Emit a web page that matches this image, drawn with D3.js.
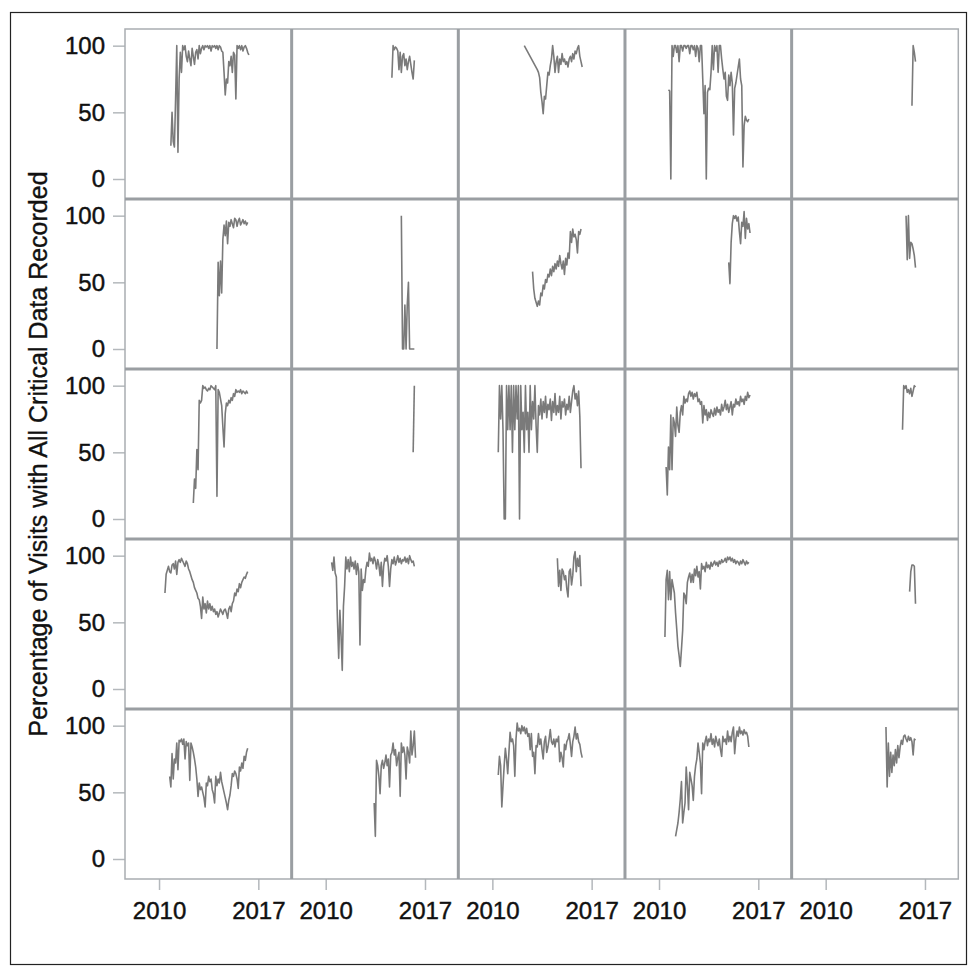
<!DOCTYPE html>
<html>
<head>
<meta charset="utf-8">
<script src="https://cdn.jsdelivr.net/npm/d3@7"></script>
<style>
  body { margin: 0; background: #fff; }
  svg { display: block; font-family: Arial, "Liberation Sans", sans-serif; }
</style>
</head>
<body>
<div id="chart"></div>
<script>
// monthly percentages per site; a 'YYYY-MM' string sets the month of the next value
const site01 = ['2010-11', 25, 50, 28, 24, 60, 100, 20, 75, 95, 80, 100, 97, 100, 92, 88, 96, 90, 85, 98, 92, 86, 95, 97, 90, 100, 94, 98, 100, 97, 100, 99, 100, 98, 100, 96, 100, 99, 100, 98, 100, 97, 100, 99, 96, 95, 80, 63, 75, 72, 88, 85, 92, 80, 95, 93, 60, 100, 98, 100, 97, 100, 96, 99, 100, 98, 95, 93];
const site02 = ['2014-09', 76, 100, 97, 99, 98, 96, 82, 95, 80, 92, 94, 85, 90, 82, 88, 92, 86, 80, 75, 89];
const site03 = ['2012-04', 100, '2013-03', 82, 80, 76, 65, 58, 49, 62, 60, 70, 80, 78, 85, 90, 100, 92, 80, 88, 92, 80, 90, 86, 94, 88, 90, 86, 88, 84, 90, 92, 88, 94, 90, 96, 94, 98, 100, 92, 88, 84];
const site04 = ['2010-09', 67, 66, 0, 100, 92, 100, 100, 95, 100, 88, 100, 100, 96, 100, 100, 98, 100, 100, 94, 100, 100, 97, 100, 92, 100, 98, 88, 100, 100, 75, 49, 70, 0, 65, 68, 67, 80, 100, 82, 100, 96, 100, 80, 100, 100, 90, 82, 75, 80, 62, 59, 78, 70, 80, 72, 33, 68, 72, 78, 84, 90, 75, 70, 9, 40, 47, 44, 43, 45];
const site05 = ['2016-02', 55, 100, 95, 88];
const site06 = ['2014-02', 0, 65, 40, 66, 42, 82, 93, 85, 96, 79, 95, 92, 97, 94, 91, 98, 97, 92, 96, 98, 93, 95, 97, 94, 96, 93, 95];
const site07 = ['2015-05', 100, 0, 0, 33, 0, 33, 50, 0, 0, 0, 0, 0];
const site08 = ['2012-11', 58, 45, 38, 35, 32, 36, 33, 42, 40, 48, 45, 52, 50, 56, 54, 60, 55, 62, 58, 64, 60, 66, 62, 70, 64, 60, 66, 56, 68, 63, 72, 68, 88, 80, 90, 84, 86, 82, 72, 88, 86, 90];
const site09 = ['2014-12', 65, 49, 80, 94, 100, 98, 100, 96, 99, 88, 79, 95, 92, 103, 83, 98, 90, 94, 87];
const site10 = ['2015-09', 100, 67, 100, 68, 80, 79, 75, 70, 61];
const site11 = ['2012-06', 12, 30, 23, 52, 37, 89, 87, 89, 100, 98, 99, 97, 96, 98, 97, 100, 99, 98, 97, 100, 17, 97, 95, 90, 85, 69, 54, 79, 87, 85, 89, 87, 91, 89, 94, 92, 97, 95, 96, 95, 97, 94, 96, 95, 94, 96, 94];
const site12 = ['2016-03', 50, 100];
const site13 = ['2010-06', 50, 100, 75, 100, 67, 0, 0, 100, 67, 100, 67, 100, 50, 100, 67, 100, 75, 100, 0, 100, 67, 80, 50, 100, 67, 80, 50, 100, 67, 88, 75, 100, 70, 50, 85, 78, 90, 75, 88, 80, 92, 76, 86, 82, 90, 74, 88, 80, 94, 78, 85, 80, 92, 75, 88, 84, 90, 78, 86, 82, 92, 80, 88, 96, 100, 90, 94, 85, 96, 77, 38];
const site14 = ['2010-07', 39, 18, 54, 37, 78, 37, 76, 72, 62, 84, 70, 65, 80, 85, 78, 92, 87, 90, 88, 94, 96, 92, 95, 90, 94, 92, 95, 88, 90, 86, 88, 72, 85, 78, 82, 74, 80, 76, 82, 79, 77, 83, 78, 84, 80, 82, 78, 86, 81, 84, 89, 82, 86, 80, 84, 88, 78, 86, 84, 90, 86, 88, 85, 92, 88, 90, 86, 92, 89, 95, 91, 93];
const site15 = ['2015-06', 67, 100, 98, 100, 95, 97, 94, 98, 92, 96, 100, 99];
const site16 = ['2010-06', 72, 86, 89, 92, 88, 87, 93, 94, 90, 96, 86, 95, 97, 95, 98, 96, 94, 92, 96, 94, 90, 88, 85, 82, 80, 76, 74, 72, 68, 67, 62, 53, 69, 60, 64, 57, 66, 60, 64, 59, 62, 58, 60, 56, 58, 54, 57, 60, 58, 56, 59, 60, 57, 53, 60, 62, 58, 64, 66, 72, 70, 75, 73, 79, 76, 80, 82, 84, 83, 86, 88];
const site17 = ['2010-06', 95, 89, 99, 87, 84, 50, 23, 59, 40, 14, 62, 77, 99, 90, 97, 88, 99, 92, 95, 90, 96, 86, 94, 88, 33, 90, 74, 82, 80, 90, 95, 92, 102, 96, 98, 94, 99, 96, 90, 97, 93, 85, 95, 77, 92, 98, 96, 100, 92, 77, 90, 97, 94, 99, 93, 96, 100, 95, 98, 94, 97, 96, 99, 95, 98, 94, 100, 97, 95, 96, 92];
const site18 = ['2014-08', 98, 77, 89, 74, 90, 88, 82, 85, 75, 69, 88, 90, 78, 85, 99, 103, 88, 98, 92, 100, 77];
const site19 = ['2010-06', 39, 82, 89, 67, 88, 67, 82, 77, 72, 57, 45, 32, 25, 17, 30, 44, 72, 70, 64, 80, 84, 87, 80, 86, 80, 90, 85, 92, 84, 88, 75, 94, 90, 92, 88, 95, 91, 93, 90, 95, 92, 94, 96, 93, 95, 92, 96, 94, 97, 95, 96, 98, 95, 99, 97, 99, 96, 98, 95, 97, 94, 96, 95, 93, 96, 94, 97, 95, 93, 96, 94, 95];
const site20 = ['2015-12', 73, 88, 93, 93, 92, 64];
const site21 = ['2010-10', 62, 54, 79, 60, 75, 72, 87, 67, 89, 88, 90, 86, 90, 75, 88, 85, 87, 59, 87, 84, 80, 75, 69, 60, 47, 57, 52, 54, 50, 46, 39, 57, 55, 62, 58, 60, 52, 49, 42, 62, 55, 60, 57, 65, 58, 54, 50, 46, 42, 37, 44, 48, 55, 64, 62, 66, 64, 60, 53, 69, 66, 72, 68, 77, 74, 80, 83];
const site22 = ['2013-06', 42, 17, 74, 70, 62, 49, 70, 74, 68, 72, 78, 70, 75, 54, 78, 80, 87, 78, 82, 70, 76, 80, 47, 87, 80, 84, 78, 60, 84, 80, 72, 96, 78, 85, 96, 76];
const site23 = ['2010-06', 63, 77, 70, 39, 55, 70, 83, 75, 64, 80, 95, 88, 90, 85, 62, 90, 102, 96, 98, 94, 100, 96, 99, 94, 98, 92, 94, 82, 94, 77, 80, 64, 85, 84, 94, 86, 90, 82, 75, 88, 92, 80, 84, 90, 97, 88, 86, 90, 84, 90, 88, 92, 73, 80, 76, 69, 86, 82, 88, 90, 94, 86, 77, 88, 92, 99, 90, 94, 88, 86, 80, 76];
const site24 = ['2011-03', 17, 22, 27, 35, 45, 58, 27, 35, 42, 69, 55, 37, 65, 60, 55, 44, 62, 70, 75, 87, 80, 72, 49, 87, 82, 88, 92, 85, 90, 88, 94, 86, 90, 84, 92, 88, 85, 90, 82, 77, 92, 88, 90, 86, 96, 88, 92, 88, 95, 99, 79, 90, 96, 92, 99, 94, 96, 93, 97, 94, 95, 92, 84];
const site25 = ['2014-04', 99, 54, 87, 62, 80, 65, 78, 70, 82, 72, 85, 76, 84, 89, 86, 92, 93, 90, 88, 92, 89, 91, 88, 78, 90, 89];

const sites = [site01, site02, site03, site04, site05, site06, site07, site08, site09, site10,
  site11, site12, site13, site14, site15, site16, site17, site18, site19, site20,
  site21, site22, site23, site24, site25];

const yearTicks = [2010, 2017];
const pctTicks = [0, 50, 100];
const yTitle = 'Percentage of Visits with All Critical Data Recorded';

//dimensions
const width = 968, height = 976;
const margin = { top: 29, left: 125 };
const nCols = 5, nRows = 5;
const panelW = 833.3 / nCols;
const panelH = 170;

// turn a site array into {t, v} points (t in decimal years)
function toPoints(arr) {
  const pts = [];
  let t = 0;
  arr.forEach(d => {
    if (typeof d === 'string') {
      const [yy, mm] = d.split('-').map(Number);
      t = yy + (mm - 1) / 12;
    } else {
      pts.push({ t: t, v: d });
      t += 1 / 12;
    }
  });
  return pts;
}

const svg = d3.select('#chart')
  .append('svg')
  .attr('width', width)
  .attr('height', height);

// outer frame
svg.append('rect')
  .attr('x', 10.5).attr('y', 12.5)
  .attr('width', 956).attr('height', 952)
  .attr('fill', 'none')
  .attr('stroke', '#222')
  .attr('stroke-width', 1.2);

//scales (same for every panel)
const x = d3.scaleLinear().domain([2007.6, 2019.35]).range([0, panelW]);
const y = d3.scaleLinear().domain([-15, 112.5]).range([panelH, 0]);

const line = d3.line()
  .x(d => x(d.t))
  .y(d => y(d.v));

const grid = svg.append('g')
  .attr('transform', `translate(${margin.left}, ${margin.top})`);

// slightly heavier text, like the scanned original
const styleText = sel => sel
  .attr('font-size', 24)
  .attr('font-family', null)
  .attr('fill', '#111')
  .attr('stroke', '#111')
  .attr('stroke-width', 0.45);

sites.forEach((site, i) => {
  const col = i % nCols;
  const row = Math.floor(i / nCols);
  const g = grid.append('g')
    .attr('transform', `translate(${col * panelW}, ${row * panelH})`);

  g.append('path')
    .datum(toPoints(site))
    .attr('fill', 'none')
    .attr('stroke', '#7a7a7a')
    .attr('stroke-width', 1.6)
    .attr('stroke-linejoin', 'round')
    .attr('d', line);

  if (col === 0) {
    const yAxis = d3.axisLeft(y).tickValues(pctTicks).tickSize(12).tickPadding(8);
    const ga = g.append('g').call(yAxis);
    ga.select('.domain').remove();
    ga.selectAll('line').attr('stroke', '#b4b8bc').attr('stroke-width', 1.5);
    ga.selectAll('text').call(styleText);
  }
  if (row === nRows - 1) {
    const xAxis = d3.axisBottom(x).tickValues(yearTicks).tickFormat(d3.format('d')).tickSize(11).tickPadding(12);
    const ga = g.append('g')
      .attr('transform', `translate(0, ${panelH})`)
      .call(xAxis);
    ga.select('.domain').remove();
    ga.selectAll('line').attr('stroke', '#b4b8bc').attr('stroke-width', 1.5);
    ga.selectAll('text').call(styleText);
  }
});

// panel borders: light outer box, heavier inner dividers
grid.append('rect')
  .attr('width', panelW * nCols)
  .attr('height', panelH * nRows)
  .attr('fill', 'none')
  .attr('stroke', '#a9adb1')
  .attr('stroke-width', 1.5);

grid.selectAll('.vdiv')
  .data(d3.range(1, nCols))
  .join('line')
  .attr('x1', d => d * panelW).attr('x2', d => d * panelW)
  .attr('y1', 0).attr('y2', panelH * nRows)
  .attr('stroke', '#9a9ea2')
  .attr('stroke-width', 3);

grid.selectAll('.hdiv')
  .data(d3.range(1, nRows))
  .join('line')
  .attr('y1', d => d * panelH).attr('y2', d => d * panelH)
  .attr('x1', 0).attr('x2', panelW * nCols)
  .attr('stroke', '#9a9ea2')
  .attr('stroke-width', 3);

// y title
svg.append('text')
  .attr('transform', `translate(47, ${margin.top + panelH * nRows / 2}) rotate(-90)`)
  .attr('text-anchor', 'middle')
  .attr('font-size', 25)
  .attr('fill', '#111')
  .attr('stroke', '#111')
  .attr('stroke-width', 0.35)
  .text(yTitle);
</script>
</body>
</html>
